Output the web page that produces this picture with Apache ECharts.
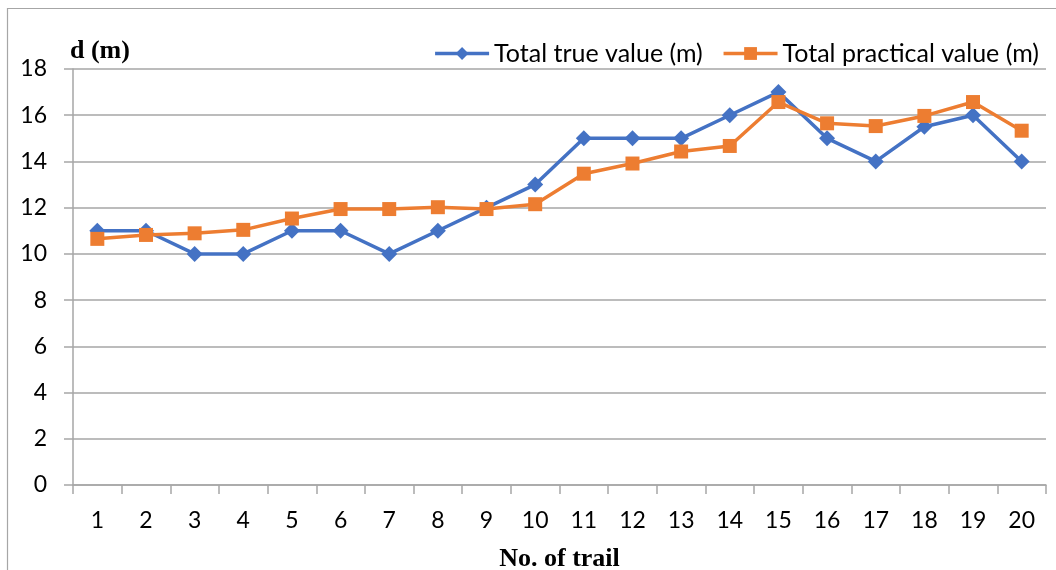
<!DOCTYPE html>
<html>
<head>
<meta charset="utf-8">
<title>Distance per trail</title>
<script src="https://cdn.jsdelivr.net/npm/echarts@6/dist/echarts.min.js"></script>
<style>
  html, body { margin: 0; padding: 0; background: #ffffff; }
  #chart { width: 1056px; height: 570px; }
</style>
</head>
<body>
<div id="chart"></div>
<script>
// Trail numbers along the horizontal axis
const trails = ['1','2','3','4','5','6','7','8','9','10','11','12','13','14','15','16','17','18','19','20'];

// Distance d (m) for each trail
const trueValues = [11, 11, 10, 10, 11, 11, 10, 11, 12, 13, 15, 15, 15, 16, 17, 15, 14, 15.5, 16, 14];
const practicalValues = [10.65, 10.82, 10.89, 11.04, 11.53, 11.94, 11.94, 12.02, 11.94, 12.15,
                         13.47, 13.91, 14.43, 14.67, 16.57, 15.65, 15.53, 15.97, 16.57, 15.33];

const seriesNames = ['Total true value (m)', 'Total practical value (m)'];
const yAxisTitle = 'd (m)';
const xAxisTitle = 'No. of trail';

const gridColor = '#a6a6a6';
const blue = '#4472c4';
const orange = '#ed7d31';
const labelFont = 'Lato, "Open Sans", sans-serif';
const titleFont = '"Liberation Serif", "DejaVu Serif", serif';

const chart = echarts.init(document.getElementById('chart'), null, { renderer: 'canvas' });

chart.setOption({
  animation: false,
  backgroundColor: '#ffffff',
  title: {
    text: yAxisTitle,
    left: 70,
    top: 38,
    padding: 0,
    textStyle: { fontFamily: titleFont, fontWeight: 'bold', fontSize: 26, color: '#000000' }
  },
  legend: {
    right: 12,
    top: 36,
    itemWidth: 54,
    itemHeight: 16,
    itemGap: 19,
    lineStyle: { width: 3.5 },
    textStyle: { fontFamily: labelFont, fontSize: 25, color: '#000000' },
    data: seriesNames
  },
  grid: { left: 73, right: 10, top: 69, bottom: 85, containLabel: false, outerBoundsMode: 'none' },
  xAxis: {
    type: 'category',
    data: trails,
    boundaryGap: true,
    name: xAxisTitle,
    nameLocation: 'middle',
    nameGap: 61,
    nameTextStyle: { fontFamily: titleFont, fontWeight: 'bold', fontSize: 26, color: '#000000' },
    axisLine: { lineStyle: { color: gridColor, width: 1.5 } },
    axisTick: { show: true, length: 9, alignWithLabel: false, lineStyle: { color: gridColor, width: 1.5 } },
    axisLabel: { margin: 24, fontFamily: labelFont, fontSize: 23, color: '#000000' },
    splitLine: { show: false }
  },
  yAxis: {
    type: 'value',
    min: 0,
    max: 18,
    interval: 2,
    axisLine: { show: true, lineStyle: { color: gridColor, width: 1.5 } },
    axisTick: { show: true, length: 9, lineStyle: { color: gridColor, width: 1.5 } },
    axisLabel: { margin: 26, fontFamily: labelFont, fontSize: 23, color: '#000000' },
    splitLine: { show: true, lineStyle: { color: gridColor, width: 1.5 } }
  },
  graphic: [
    {
      type: 'polyline',
      shape: { points: [[7.5, 570], [7.5, 8.5], [1056, 8.5]] },
      style: { stroke: '#a6a6a6', lineWidth: 1.2, fill: null },
      silent: true
    }
  ],
  series: [
    {
      name: seriesNames[0],
      type: 'line',
      data: trueValues,
      symbol: 'diamond',
      symbolSize: 16,
      lineStyle: { color: blue, width: 3.5 },
      itemStyle: { color: blue },
      z: 3
    },
    {
      name: seriesNames[1],
      type: 'line',
      data: practicalValues,
      symbol: 'rect',
      symbolSize: 14,
      lineStyle: { color: orange, width: 3.5 },
      itemStyle: { color: orange },
      z: 4
    }
  ]
});
</script>
</body>
</html>
